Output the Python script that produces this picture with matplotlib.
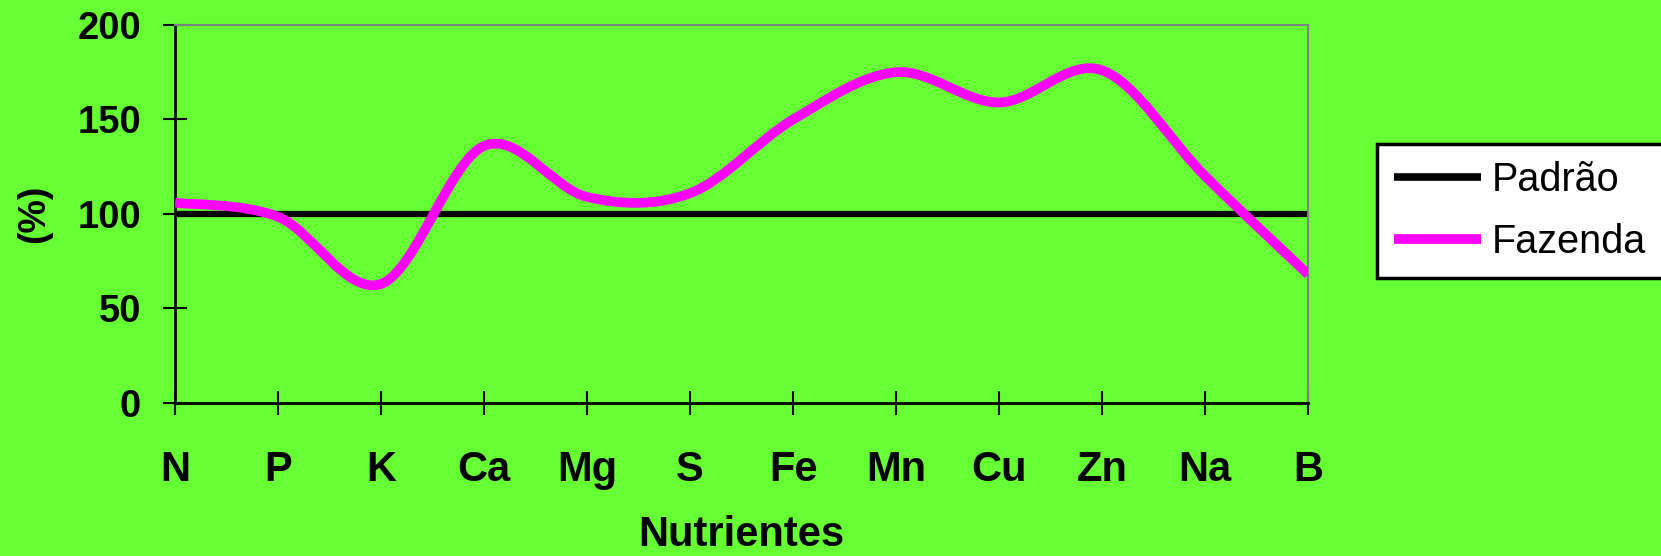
import numpy as np
import matplotlib
matplotlib.use("Agg")
import matplotlib.pyplot as plt
from matplotlib.path import Path
from matplotlib.patches import PathPatch
from matplotlib.lines import Line2D

plt.rcParams["font.family"] = "Liberation Sans"

nutrientes = ["N", "P", "K", "Ca", "Mg", "S", "Fe", "Mn", "Cu", "Zn", "Na", "B"]
padrao = [100] * 12
fazenda = [106, 98.5, 63, 136, 109, 111, 150, 175, 159, 176, 120, 68]

BG = "#66FF33"
MAGENTA = "#FF00FF"


def smooth_path(xs, ys):
    # cubic bezier through every point (catmull-rom style tangents, like a spreadsheet "smoothed line")
    pts = np.column_stack([xs, ys]).astype(float)
    n = len(pts)
    verts = [pts[0]]
    codes = [Path.MOVETO]
    for i in range(n - 1):
        p0 = pts[max(i - 1, 0)]
        p1 = pts[i]
        p2 = pts[i + 1]
        p3 = pts[min(i + 2, n - 1)]
        c1 = p1 + (p2 - p0) / 6.0
        c2 = p2 - (p3 - p1) / 6.0
        verts += [c1, c2, p2]
        codes += [Path.CURVE4] * 3
    return Path(verts, codes)


fig = plt.figure(figsize=(16.61, 5.56), dpi=100, facecolor=BG)
ax = fig.add_axes([0.1054, 0.2752, 0.6822, 0.6799], facecolor=BG)

x = np.arange(len(nutrientes))
ax.plot(x, padrao, color="black", lw=4.5, solid_capstyle="butt", zorder=2)
ax.add_patch(PathPatch(smooth_path(x, fazenda), fill=False, edgecolor=MAGENTA,
                       lw=7, capstyle="butt", joinstyle="round", zorder=3))

ax.set_xlim(0, 11)
ax.set_ylim(0, 200)
ax.set_xticks(x)
ax.set_xticklabels(nutrientes)
ax.set_yticks([0, 50, 100, 150, 200])

for s in ("left", "bottom"):
    ax.spines[s].set_color("black")
    ax.spines[s].set_linewidth(2)
for s in ("top", "right"):
    ax.spines[s].set_color("#808080")
    ax.spines[s].set_linewidth(1.5)

ax.tick_params(axis="both", direction="inout", length=17, width=1.5, color="black")
ax.tick_params(axis="y", pad=16, labelsize=27.5)
ax.tick_params(axis="x", pad=25, labelsize=30)
for lab in ax.get_xticklabels() + ax.get_yticklabels():
    lab.set_fontweight("bold")

ax.set_xlabel("Nutrientes", fontsize=30, fontweight="bold", labelpad=18)
ax.set_ylabel("(%)", fontsize=27, fontweight="bold", labelpad=18)

handles = [Line2D([], [], color="black", lw=5.5, solid_capstyle="butt"),
           Line2D([], [], color=MAGENTA, lw=7, solid_capstyle="butt")]
leg = fig.legend(handles, ["Padrão", "Fazenda"], loc="center left",
                 bbox_to_anchor=(0.829, 0.6205), fontsize=28.5, frameon=True,
                 fancybox=False, framealpha=1, edgecolor="black",
                 handlelength=2.2, handletextpad=0.28, borderpad=0.42,
                 labelspacing=0.62, borderaxespad=0)
leg.get_frame().set_linewidth(2.5)

fig.savefig("out.png", dpi=100, facecolor=BG)
